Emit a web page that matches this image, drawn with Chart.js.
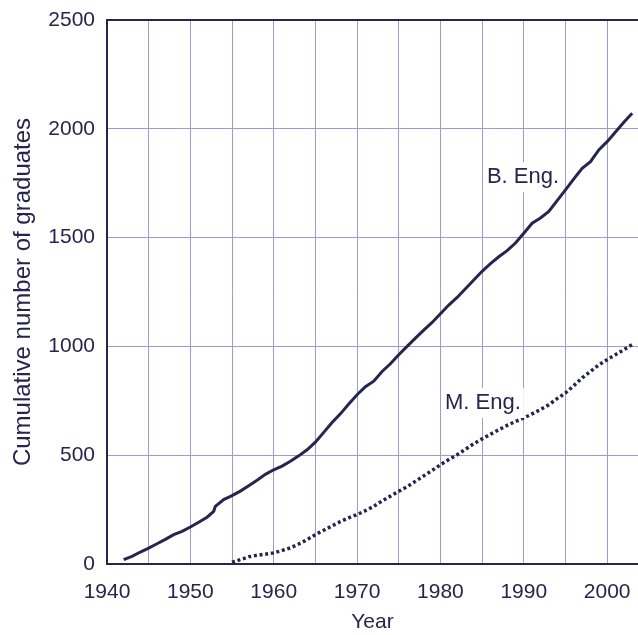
<!DOCTYPE html>
<html>
<head>
<meta charset="utf-8">
<title>Cumulative number of graduates</title>
<script src="https://cdn.jsdelivr.net/npm/chart.js@4"></script>
<style>
    html, body { margin: 0; padding: 0; background: #ffffff; }
    #wrap { width: 638px; height: 635px; position: relative; }
</style>
</head>
<body>
<div id="wrap"><canvas id="gradChart"></canvas></div>
<script>
// B. Eng. cumulative graduates
const bengYears = [1942, 1943, 1944, 1945, 1946, 1947, 1948, 1949, 1950, 1951, 1952, 1952.8, 1953,
    1954, 1955, 1956, 1957, 1958, 1959, 1960, 1961, 1962, 1963, 1964, 1965, 1966, 1967, 1968, 1969,
    1970, 1971, 1972, 1973, 1974, 1975, 1976, 1977, 1978, 1979, 1980, 1981, 1982, 1983, 1984, 1985,
    1986, 1987, 1988, 1989, 1990, 1991, 1992, 1993, 1994, 1995, 1996, 1997, 1998, 1999, 2000, 2001,
    2002, 2003];
const bengValues = [20, 35, 55, 73, 93, 113, 135, 150, 170, 192, 215, 242, 265,
    296, 314, 335, 360, 385, 412, 433, 450, 472, 497, 525, 560, 605, 650, 690, 735,
    778, 815, 840, 885, 920, 962, 1000, 1038, 1075, 1110, 1150, 1190, 1225, 1265, 1305, 1345,
    1380, 1412, 1440, 1475, 1520, 1566, 1590, 1620, 1670, 1719, 1770, 1818, 1849, 1903, 1941, 1985,
    2030, 2071];

// M. Eng. cumulative graduates
const mengYears = [1955, 1956, 1957, 1958, 1959, 1960, 1961, 1962, 1963, 1964, 1965, 1966, 1967,
    1968, 1969, 1970, 1971, 1972, 1973, 1974, 1975, 1976, 1977, 1978, 1979, 1980, 1981, 1982, 1983,
    1984, 1985, 1986, 1987, 1988, 1989, 1990, 1991, 1992, 1993, 1994, 1995, 1996, 1997, 1998, 1999,
    2000, 2001, 2002, 2003];
const mengValues = [8, 20, 33, 40, 45, 51, 62, 74, 92, 112, 135, 155, 175,
    195, 212, 227, 245, 265, 290, 312, 334, 355, 380, 405, 430, 456, 480, 502, 527,
    553, 575, 596, 617, 637, 655, 671, 690, 710, 732, 760, 786, 820, 855, 885, 915,
    939, 962, 985, 1008];

// x grid every 5 years, labelled every 10
const xGridYears = [1940, 1945, 1950, 1955, 1960, 1965, 1970, 1975, 1980, 1985, 1990, 1995, 2000];
const xTickLabels = ['1940', '1950', '1960', '1970', '1980', '1990', '2000'];
const yTicks = [0, 500, 1000, 1500, 2000, 2500];

// series labels placed on the plot (text centre in data units)
const seriesLabels = ['B. Eng.', 'M. Eng.'];
const labelYears = [1989.9, 1985.1];
const labelValues = [1778, 740];

const ink = '#25254d';
const gridColor = '#9c9cd2';
const fontFamily = "'Liberation Sans', Arial, sans-serif";

function toPoints(xs, ys) {
    return xs.map(function (x, i) { return { x: x, y: ys[i] }; });
}

const lineLabels = {
    id: 'lineLabels',
    afterDatasetsDraw: function (chart) {
        const ctx = chart.ctx;
        const xs = chart.scales.x;
        const ys = chart.scales.y;
        ctx.save();
        ctx.font = '22px ' + fontFamily;
        ctx.textAlign = 'center';
        ctx.textBaseline = 'middle';
        seriesLabels.forEach(function (text, i) {
            const px = xs.getPixelForValue(labelYears[i]);
            const py = ys.getPixelForValue(labelValues[i]);
            const w = ctx.measureText(text).width;
            ctx.fillStyle = '#ffffff';
            ctx.fillRect(px - w / 2 - 3, py - 15, w + 6, 30);
            ctx.fillStyle = ink;
            ctx.fillText(text, px, py);
        });
        ctx.restore();
    }
};

new Chart(document.getElementById('gradChart'), {
    type: 'line',
    data: {
        datasets: [
            {
                label: 'B. Eng.',
                data: toPoints(bengYears, bengValues),
                borderColor: ink,
                borderWidth: 3,
                pointRadius: 0,
                tension: 0,
                fill: false
            },
            {
                label: 'M. Eng.',
                data: toPoints(mengYears, mengValues),
                borderColor: ink,
                borderWidth: 3.5,
                borderDash: [3, 2.7],
                borderCapStyle: 'butt',
                pointRadius: 0,
                tension: 0,
                fill: false
            }
        ]
    },
    options: {
        responsive: true,
        maintainAspectRatio: false,
        animation: false,
        layout: {
            padding: { top: 20, left: 0, right: 0, bottom: 0 }
        },
        scales: {
            x: {
                type: 'linear',
                min: 1940,
                max: 2003.7,
                afterBuildTicks: function (scale) {
                    scale.ticks = xGridYears.map(function (v) { return { value: v }; });
                },
                afterFit: function (scale) {
                    scale.height = 71;
                    scale.paddingLeft = 0;
                    scale.paddingRight = 0;
                },
                ticks: {
                    autoSkip: false,
                    maxRotation: 0,
                    minRotation: 0,
                    padding: 16,
                    color: ink,
                    font: { family: fontFamily, size: 21 },
                    callback: function (v) {
                        return xTickLabels.indexOf(String(v)) >= 0 ? String(v) : '';
                    }
                },
                grid: {
                    drawTicks: false,
                    lineWidth: 1,
                    color: gridColor
                },
                border: { color: ink, width: 2 },
                title: {
                    display: true,
                    text: 'Year',
                    color: ink,
                    font: { family: fontFamily, size: 21 },
                    padding: { top: 0, bottom: 0 }
                }
            },
            y: {
                min: 0,
                max: 2500,
                afterBuildTicks: function (scale) {
                    scale.ticks = yTicks.map(function (v) { return { value: v }; });
                },
                afterFit: function (scale) {
                    scale.width = 107;
                    scale.paddingTop = 0;
                    scale.paddingBottom = 0;
                },
                ticks: {
                    padding: 12,
                    color: ink,
                    font: { family: fontFamily, size: 21 },
                    callback: function (v) { return String(v); }
                },
                grid: {
                    drawTicks: false,
                    color: function (c) {
                        return c.tick && c.tick.value === 2500 ? ink : gridColor;
                    },
                    lineWidth: function (c) {
                        return c.tick && c.tick.value === 2500 ? 2 : 1;
                    }
                },
                border: { color: ink, width: 2 },
                title: {
                    display: true,
                    text: 'Cumulative number of graduates',
                    color: ink,
                    font: { family: fontFamily, size: 24 },
                    padding: { top: 9, bottom: 0 }
                }
            }
        },
        plugins: {
            legend: { display: false },
            tooltip: { enabled: false }
        }
    },
    plugins: [lineLabels]
});
</script>
</body>
</html>
